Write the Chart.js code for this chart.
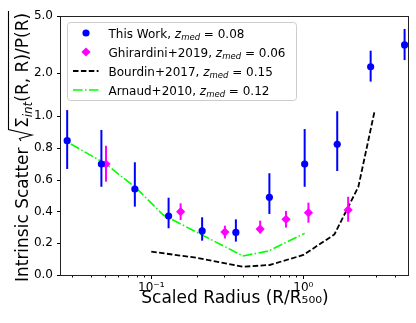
<!DOCTYPE html>
<html><head><meta charset="utf-8">
<script src="https://cdn.jsdelivr.net/npm/chart.js@4/dist/chart.umd.min.js"></script>
<style>html,body{margin:0;padding:0;background:#fff}#wrap{width:416px;height:323px;position:relative}</style>
</head><body><div id="wrap"><canvas id="c" width="416" height="323"></canvas></div>
<script>
const FONT = 'DejaVu Sans';

// ---- data ----
const thisWorkR      = [0.028, 0.047, 0.078, 0.130, 0.216, 0.360, 0.598, 1.02, 1.67, 2.77, 4.63];
const thisWorkSigma  = [0.845, 0.698, 0.541, 0.371, 0.277, 0.268, 0.489, 0.698, 0.822, 2.21, 3.14];
const thisWorkLow    = [0.667, 0.555, 0.430, 0.294, 0.216, 0.210, 0.384, 0.555, 0.654, 1.74, 2.46];
const thisWorkHigh   = [1.10, 0.912, 0.709, 0.486, 0.363, 0.350, 0.640, 0.918, 1.08, 2.86, 4.06];

const ghirR     = [0.0504, 0.156, 0.305, 0.52, 0.769, 1.08, 1.97];
const ghirSigma = [0.698, 0.398, 0.270, 0.289, 0.350, 0.392, 0.409];
const ghirLow   = [0.587, 0.346, 0.230, 0.262, 0.298, 0.329, 0.335];
const ghirHigh  = [0.813, 0.451, 0.310, 0.342, 0.403, 0.455, 0.492];

const bourdinR     = [0.1, 0.2, 0.4, 0.6, 1.0, 1.6, 2.3, 2.95];
const bourdinSigma = [0.147, 0.108, 0.052, 0.063, 0.126, 0.255, 0.555, 1.10];

const arnaudR     = [0.0296, 0.05, 0.08, 0.12, 0.40, 0.59, 1.02];
const arnaudSigma = [0.824, 0.70, 0.545, 0.377, 0.12, 0.151, 0.262];

const seriesNames = ['This Work', 'Ghirardini+2019', 'Bourdin+2017', 'Arnaud+2010'];
const seriesZmed  = ['0.08', '0.06', '0.15', '0.12'];

const xTickValues  = [0.03,0.04,0.05,0.06,0.07,0.08,0.09,0.1,0.2,0.3,0.4,0.5,0.6,0.7,0.8,0.9,1,2,3,4];
const xMajorTicks  = [0.1, 1];
const xMajorLabels = ['10⁻¹', '10⁰'];
const yTickValues  = [0, 0.2, 0.4, 0.6, 0.8, 1, 2, 5];
const yTickLabels  = ['0.0', '0.2', '0.4', '0.6', '0.8', '1.0', '2.0', '5.0'];

const xTitle = 'Scaled Radius (R/R₅₀₀)';
const yTitleMain = 'Intrinsic Scatter';
const yTitleSub = 'int';
const yTitleTail = '(R, R)/P(R)';

// ---- symlog scale (linthresh = 1, base 10, linscale = 1) ----
const LINADJ = 1 / (1 - 1 / 10);
function symT(v) { const a = Math.abs(v), s = Math.sign(v) || 1; return a <= 1 ? v * LINADJ : s * (LINADJ + Math.log10(a)); }
function symInv(t) { const a = Math.abs(t), s = Math.sign(t) || 1; return a <= LINADJ ? t / LINADJ : s * Math.pow(10, a - LINADJ); }

class SymlogScale extends Chart.Scale {
  static id = 'symlog';
  static defaults = {};
  determineDataLimits() { this.min = this.options.min; this.max = this.options.max; }
  buildTicks() { return yTickValues.map(v => ({ value: v })); }
  getLabelForValue(v) { return String(v); }
  configure() {
    super.configure();
    this._s0 = symT(this.min);
    this._sr = symT(this.max) - this._s0;
  }
  getPixelForValue(v) { return this.getPixelForDecimal((symT(v) - this._s0) / this._sr); }
  getValueForPixel(p) { return symInv(this._s0 + this.getDecimalForPixel(p) * this._sr); }
}
Chart.register(SymlogScale);

const pts = (xs, ys) => xs.map((x, i) => ({ x: x, y: ys[i] }));

const BLUE = '#0000ff', MAG = '#ff00ff', GREEN = '#00ff00', BLACK = '#000000';
const BLACK_DASH = [5.5, 2.4], GREEN_DASH = [9.6, 2.4, 1.5, 2.4];

// ---- plugins ----
const errorBars = {
  id: 'errorBars',
  beforeDatasetDraw(chart, args) {
    const ds = chart.data.datasets[args.index];
    if (!ds.errLow) return;
    const { ctx, chartArea: a, scales: { x, y } } = chart;
    ctx.save();
    ctx.beginPath(); ctx.rect(a.left, a.top, a.right - a.left, a.bottom - a.top); ctx.clip();
    ctx.strokeStyle = ds.backgroundColor; ctx.lineWidth = 2;
    ds.data.forEach((p, i) => {
      const px = x.getPixelForValue(p.x);
      ctx.beginPath();
      ctx.moveTo(px, y.getPixelForValue(ds.errLow[i]));
      ctx.lineTo(px, y.getPixelForValue(ds.errHigh[i]));
      ctx.stroke();
    });
    ctx.restore();
  }
};

function runsWidth(ctx, runs) { let w = 0; for (const r of runs) { ctx.font = r[1]; w += ctx.measureText(r[0]).width; } return w; }
function drawRuns(ctx, x, y, runs) { for (const r of runs) { ctx.font = r[1]; ctx.fillText(r[0], x, y + (r[2] || 0)); x += ctx.measureText(r[0]).width; } return x; }

const frame = {
  id: 'frame',
  afterDraw(chart) {
    const { ctx, chartArea: a, scales: { x, y } } = chart;
    ctx.save();
    ctx.strokeStyle = '#000'; ctx.lineWidth = 1;
    // ticks
    ctx.beginPath();
    x.ticks.forEach(t => {
      const px = Math.round(x.getPixelForValue(t.value)) + 0.5;
      const len = xMajorTicks.includes(t.value) ? 4 : 2.5;
      ctx.moveTo(px, a.bottom); ctx.lineTo(px, a.bottom + len);
    });
    y.ticks.forEach(t => {
      const py = Math.round(y.getPixelForValue(t.value)) + 0.5;
      ctx.moveTo(a.left, py); ctx.lineTo(a.left - 4, py);
    });
    ctx.stroke();
    // spines
    ctx.strokeStyle = '#222';
    ctx.strokeRect(Math.round(a.left) - 0.5, Math.round(a.top) + 0.5, Math.round(a.right - a.left), Math.round(a.bottom - a.top));
    ctx.restore();

    drawLegend(chart);
    drawYTitle(chart);
  }
};

function drawLegend(chart) {
  const ctx = chart.ctx;
  const bx = 67.5, by = 22.5, bw = 229, bh = 78;
  ctx.save();
  ctx.beginPath();
  ctx.roundRect(bx, by, bw, bh, 3);
  ctx.fillStyle = 'rgba(255,255,255,0.85)'; ctx.fill();
  ctx.strokeStyle = '#cccccc'; ctx.lineWidth = 1; ctx.stroke();
  const rows = [33, 52, 71, 90];
  const mx = 86, lx0 = 73, lx1 = 98.5, tx = 108.5;
  chart.data.datasets.forEach((ds, i) => {
    const cy = rows[i];
    ctx.save();
    if (ds.showLine) {
      ctx.strokeStyle = ds.borderColor; ctx.lineWidth = ds.borderWidth; ctx.setLineDash(ds.borderDash);
      ctx.beginPath(); ctx.moveTo(lx0, cy); ctx.lineTo(lx1, cy); ctx.stroke();
    } else {
      ctx.fillStyle = ds.backgroundColor; ctx.beginPath();
      if (ds.pointStyle === 'rectRot') {
        const r = ds.pointRadius;
        ctx.moveTo(mx, cy - r); ctx.lineTo(mx + r, cy); ctx.lineTo(mx, cy + r); ctx.lineTo(mx - r, cy); ctx.closePath();
      } else {
        ctx.arc(mx, cy, ds.pointRadius, 0, Math.PI * 2);
      }
      ctx.fill();
    }
    ctx.restore();
    ctx.fillStyle = '#000'; ctx.textBaseline = 'alphabetic';
    const F = '12px ' + FONT, FI = 'italic 12px ' + FONT, FS = 'italic 8.5px ' + FONT;
    drawRuns(ctx, tx, cy + 4.5, [[seriesNames[i] + ', ', F, 0], ['z', FI, 0], ['med', FS, 2.5], [' = ' + seriesZmed[i], F, 0]]);
  });
  ctx.restore();
}

function drawYTitle(chart) {
  const ctx = chart.ctx, a = chart.chartArea;
  const cy = (a.top + a.bottom) / 2 + 1;
  const F = '17px ' + FONT, FS = 'italic 12px ' + FONT;
  ctx.save();
  ctx.translate(28, cy); ctx.rotate(-Math.PI / 2);
  ctx.fillStyle = '#000'; ctx.textBaseline = 'alphabetic';
  ctx.font = F;
  const w1 = ctx.measureText(yTitleMain + ' ').width;
  const content = [['Σ', F, 0], [yTitleSub, FS, 4], [yTitleTail, F, 0]];
  const wc = runsWidth(ctx, content);
  const radW = 14;
  const W = w1 + radW + wc + 2;
  let x = -W / 2;
  ctx.font = F; ctx.fillText(yTitleMain + ' ', x, 0); x += w1;
  ctx.beginPath(); ctx.lineWidth = 1.1; ctx.strokeStyle = '#000';
  ctx.moveTo(x + 1, -7); ctx.lineTo(x + 3.5, -8.5); ctx.lineTo(x + 7, 4); ctx.lineTo(x + 12.5, -19.5); ctx.lineTo(x + radW + wc + 2, -19.5);
  ctx.stroke();
  x += radW;
  drawRuns(ctx, x, 0, content);
  ctx.restore();
}

Chart.defaults.font.family = FONT;
Chart.defaults.color = '#000';

new Chart(document.getElementById('c'), {
  type: 'scatter',
  data: {
    datasets: [
      { label: seriesNames[0], data: pts(thisWorkR, thisWorkSigma), errLow: thisWorkLow, errHigh: thisWorkHigh,
        backgroundColor: BLUE, borderColor: BLUE, pointStyle: 'circle', pointRadius: 3.6, borderWidth: 0, showLine: false },
      { label: seriesNames[1], data: pts(ghirR, ghirSigma), errLow: ghirLow, errHigh: ghirHigh,
        backgroundColor: MAG, borderColor: MAG, pointStyle: 'rectRot', pointRadius: 4.6, borderWidth: 0, showLine: false },
      { label: seriesNames[2], data: pts(bourdinR, bourdinSigma), showLine: true, pointRadius: 0,
        borderColor: BLACK, backgroundColor: BLACK, borderWidth: 1.8, borderDash: BLACK_DASH, tension: 0 },
      { label: seriesNames[3], data: pts(arnaudR, arnaudSigma), showLine: true, pointRadius: 0,
        borderColor: GREEN, backgroundColor: GREEN, borderWidth: 1.6, borderDash: GREEN_DASH, tension: 0 }
    ]
  },
  options: {
    responsive: false, animation: false, devicePixelRatio: 1,
    layout: { padding: { left: 0, right: 7, top: 16, bottom: 0 } },
    plugins: { legend: { display: false }, tooltip: { enabled: false } },
    scales: {
      x: {
        type: 'logarithmic', min: 0.0255, max: 4.95,
        afterBuildTicks: s => { s.ticks = xTickValues.map(v => ({ value: v, major: xMajorTicks.includes(v) })); },
        afterFit: s => { s.height = 48; },
        ticks: { autoSkip: false, maxRotation: 0, padding: 6, font: { size: 12 }, color: '#000',
          callback: v => { const k = xMajorTicks.indexOf(v); return k >= 0 ? xMajorLabels[k] : ''; } },
        grid: { display: true, drawOnChartArea: false, drawTicks: false },
        border: { display: false },
        title: { display: true, text: xTitle, font: { size: 17 }, color: '#000', padding: { top: 0, bottom: 14 } }
      },
      y: {
        type: 'symlog', position: 'left', min: 0, max: 5,
        afterFit: s => { s.width = 61; },
        ticks: { autoSkip: false, padding: 8, font: { size: 12 }, color: '#000',
          callback: v => { const k = yTickValues.indexOf(v); return k >= 0 ? yTickLabels[k] : ''; } },
        grid: { display: true, drawOnChartArea: false, drawTicks: false },
        border: { display: false }
      }
    }
  },
  plugins: [errorBars, frame]
});
</script></body></html>
